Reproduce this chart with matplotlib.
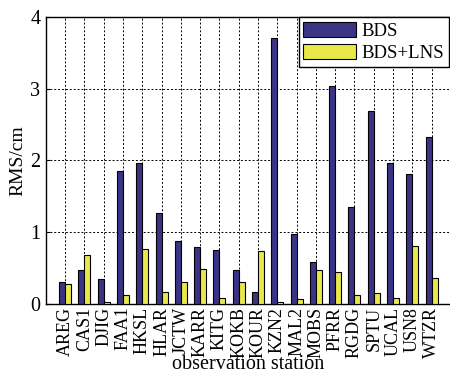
import matplotlib
matplotlib.use("Agg")
import matplotlib.pyplot as plt
import numpy as np

stations = ["AREG", "CAS1", "DJIG", "FAA1", "HKSL", "HLAR", "JCTW", "KARR", "KITG", "KOKB",
            "KOUR", "KZN2", "MAL2", "MOBS", "PFRR", "RGDG", "SPTU", "UCAL", "USN8", "WTZR"]
bds = [0.31, 0.47, 0.34, 1.85, 1.97, 1.26, 0.88, 0.79, 0.75, 0.47,
       0.17, 3.70, 0.98, 0.58, 3.04, 1.35, 2.69, 1.97, 1.81, 2.33]
bds_lns = [0.27, 0.68, 0.03, 0.12, 0.76, 0.17, 0.30, 0.48, 0.08, 0.31,
           0.74, 0.02, 0.07, 0.47, 0.45, 0.13, 0.15, 0.08, 0.80, 0.36]

plt.rcParams["font.family"] = ["Liberation Serif", "DejaVu Serif"]

fig = plt.figure(figsize=(4.5, 3.77), dpi=100)
ax = fig.add_axes([0.102, 0.194, 0.900, 0.761])

x = np.arange(1, len(stations) + 1)
w = 0.31
ax.bar(x - w / 2, bds, w, color="#3b3484", edgecolor="black", linewidth=0.8, label="BDS", zorder=3)
ax.bar(x + w / 2, bds_lns, w, color="#e8e84a", edgecolor="black", linewidth=0.8, label="BDS+LNS", zorder=3)

ax.set_xlim(0, len(stations) + 1)
ax.set_ylim(0, 4)
ax.set_yticks([0, 1, 2, 3, 4])
ax.set_xticks(x)
ax.set_xticklabels(stations, rotation=90, fontsize=13)
ax.tick_params(axis="y", labelsize=14.5, direction="in", length=3, pad=4)
ax.tick_params(axis="x", direction="in", length=3, pad=2)
ax.grid(True, color="black", linestyle=(0, (2, 2)), linewidth=0.7, zorder=0)
for s in ax.spines.values():
    s.set_linewidth(1.0)

ax.set_ylabel("RMS/cm", fontsize=14, labelpad=3)
ax.set_xlabel("observation station", fontsize=14.5, labelpad=-2)

leg = ax.legend(loc="upper right", bbox_to_anchor=(0.995, 1.0), fontsize=13.5, handlelength=2.8,
                handleheight=0.9, borderaxespad=0, fancybox=False, framealpha=1,
                edgecolor="black", borderpad=0.25, labelspacing=0.2, handletextpad=0.3)
leg.get_frame().set_linewidth(1.0)

fig.savefig("out.png", dpi=100)
